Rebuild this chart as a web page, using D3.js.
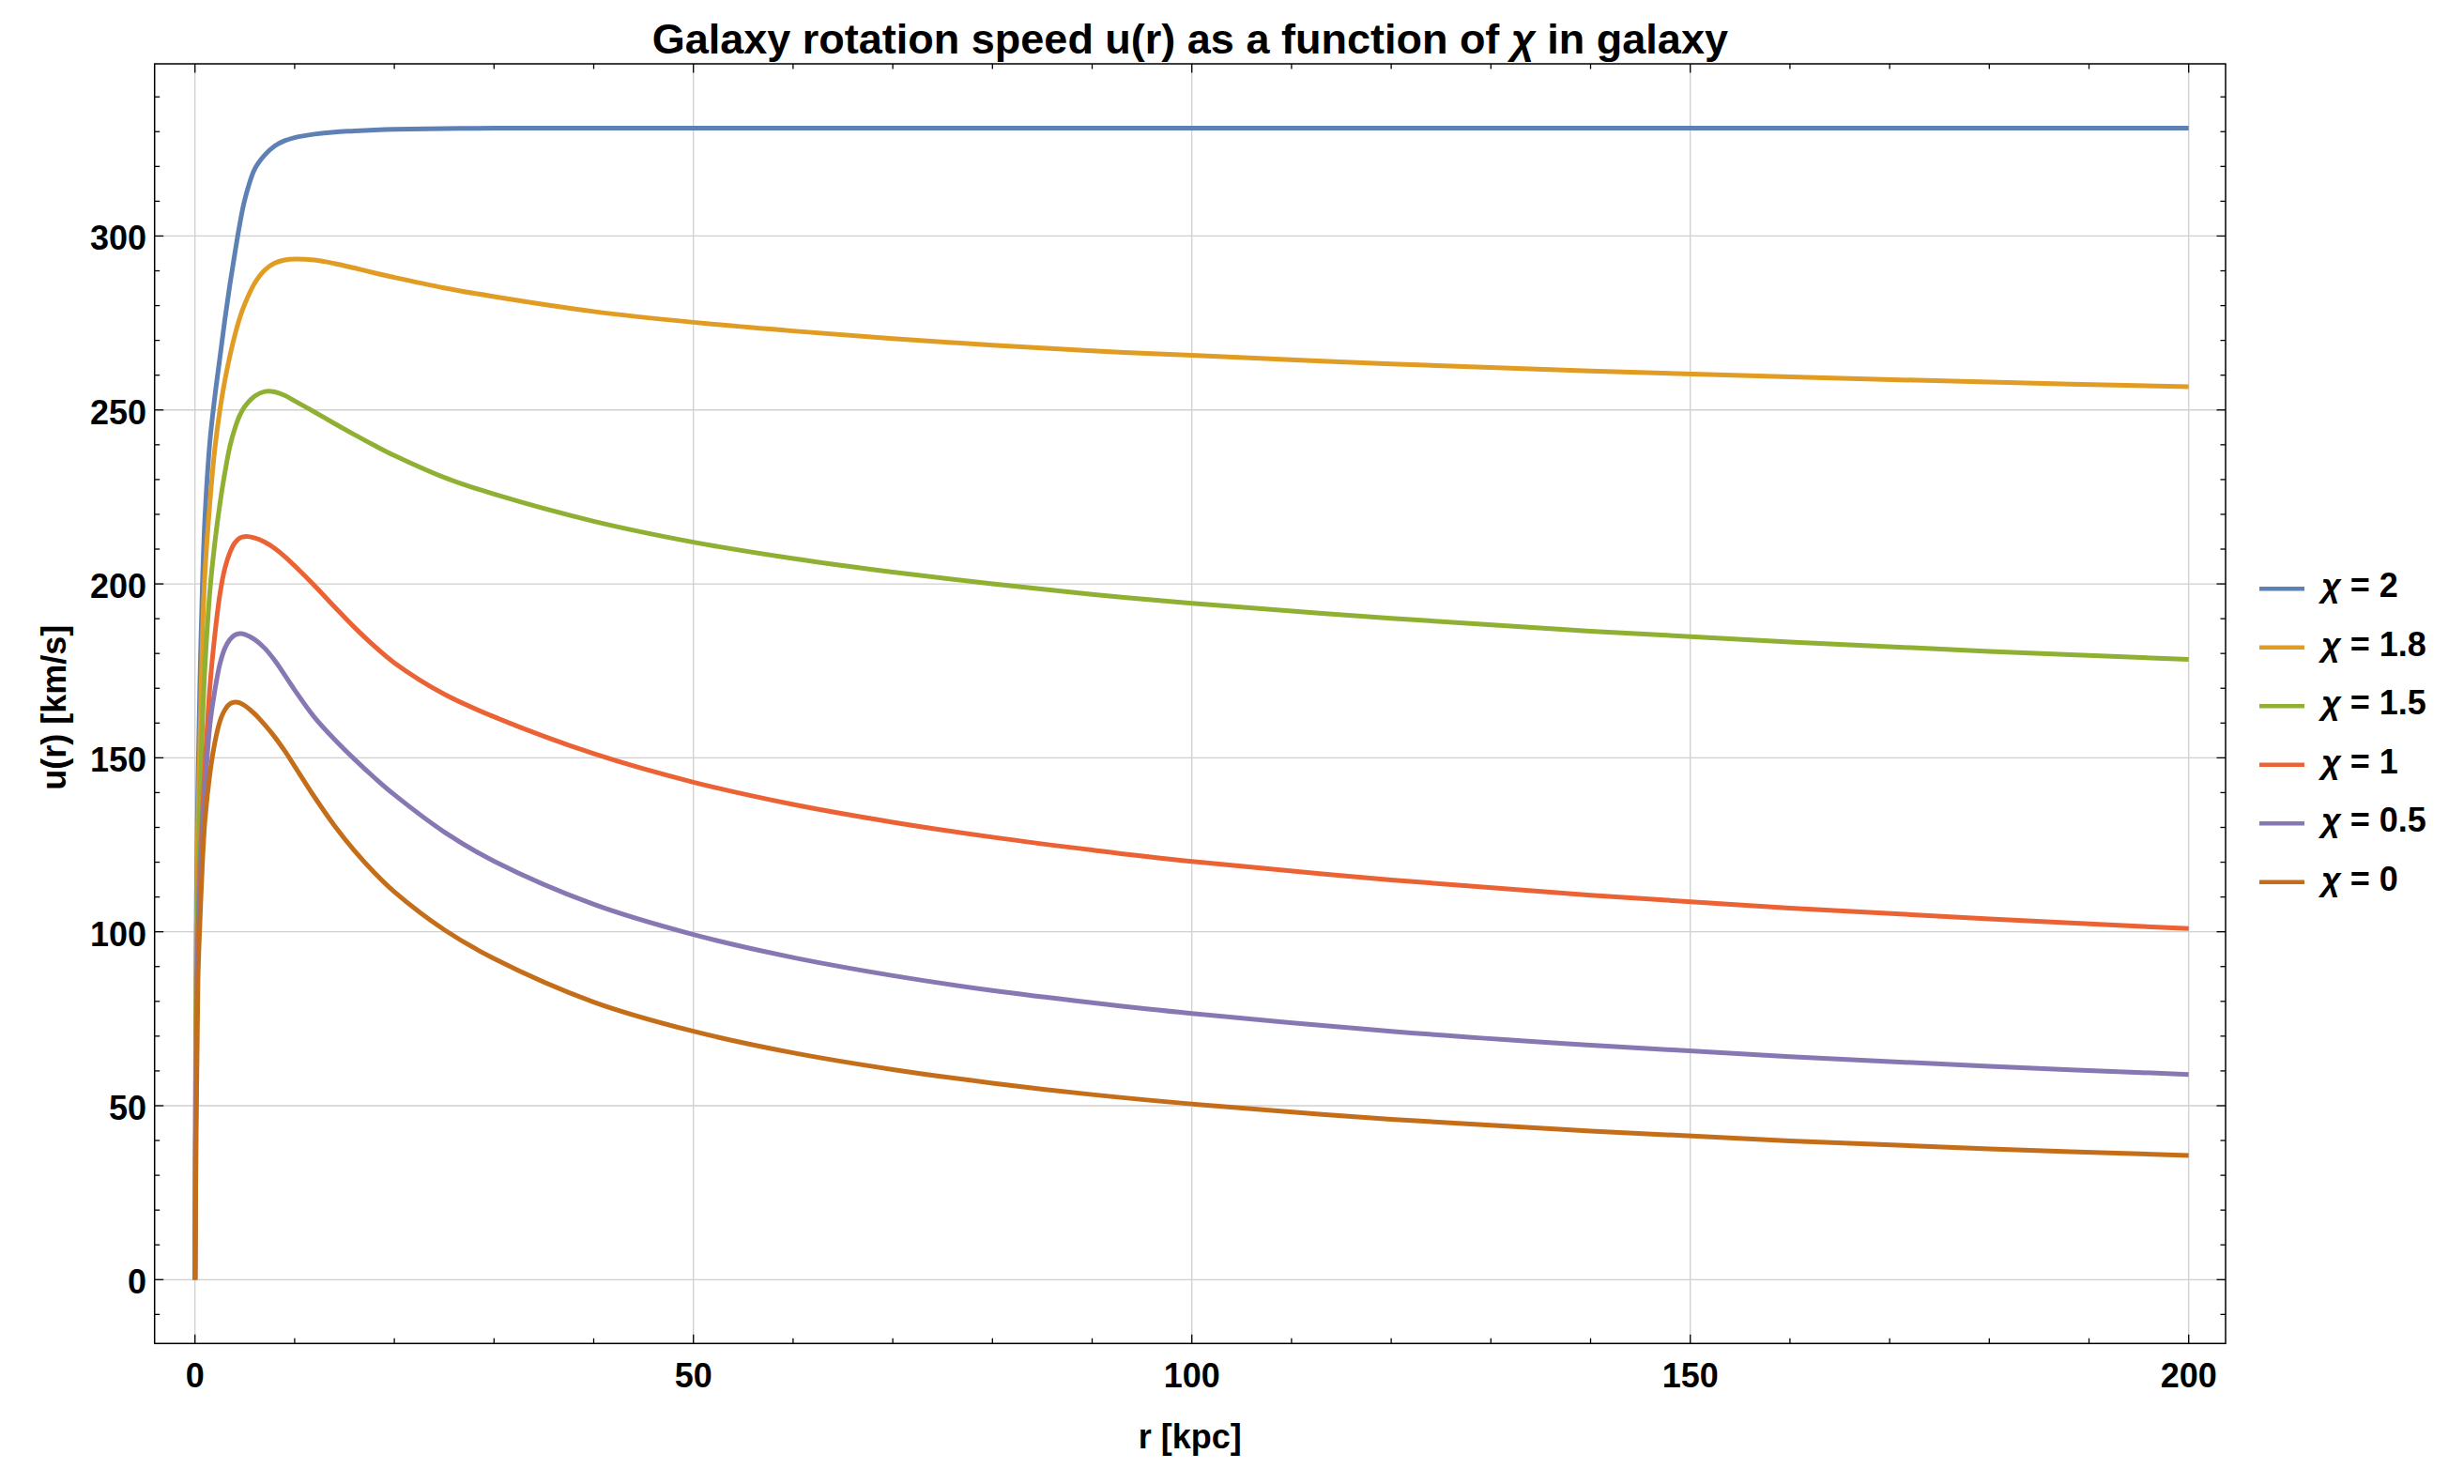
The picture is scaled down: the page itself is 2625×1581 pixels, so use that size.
<!DOCTYPE html>
<html>
<head>
<meta charset="utf-8">
<script src="https://cdn.jsdelivr.net/npm/d3@7"></script>
<style>
html, body { margin: 0; padding: 0; background: #ffffff; }
svg { display: block; }
text { font-family: "Liberation Sans", Arial, Helvetica, sans-serif; font-weight: bold; fill: #000; }
</style>
</head>
<body>
<svg id="chart" width="2625" height="1581"></svg>
<script>
// ---------------- DATA ----------------
const radiusKpc = [0, 0.15, 0.3, 0.5, 0.75, 1, 1.5, 2, 2.5, 3, 3.5, 4, 4.5, 5, 6, 7, 8, 9, 10, 12, 14, 16, 18, 20, 25, 30, 40, 50, 60, 70, 80, 90, 100, 120, 140, 160, 180, 200];

const speedChi2   = [0, 110, 142, 172, 200, 219, 241, 254, 265, 276, 286, 295, 303.5, 310.5, 319.3, 323.3, 325.9, 327.4, 328.3, 329.3, 329.9, 330.2, 330.5, 330.7, 330.9, 331, 331, 331, 331, 331, 331, 331, 331, 331, 331, 331, 331, 331];
const speedChi1_8 = [0, 100, 132, 155, 185, 203, 223.5, 239, 250, 258.5, 265.5, 271.5, 276.5, 280.5, 286.5, 290.2, 292.2, 293.1, 293.4, 293.1, 292.1, 290.8, 289.4, 288.1, 285.1, 282.6, 278.3, 275.2, 272.7, 270.5, 268.6, 267, 265.7, 263.2, 261.2, 259.5, 258, 256.7];
const speedChi1_5 = [0, 85, 112, 138, 160, 176, 198, 212, 223, 232, 239.5, 244.7, 248.5, 251, 254, 255.3, 255.2, 254.2, 252.6, 249.4, 246.1, 242.9, 239.8, 236.9, 230.6, 225.8, 218, 212, 207.3, 203.4, 200, 197, 194.4, 190.1, 186.4, 183.3, 180.6, 178.3];
const speedChi1   = [0, 75, 100, 119, 134, 147.5, 170.5, 185.5, 197, 204.5, 209, 211.8, 213.2, 213.6, 213.2, 212, 210.2, 207.9, 205.2, 199.5, 193.4, 187.5, 182.1, 177.3, 168.3, 161.8, 151.2, 143, 136.6, 131.5, 127.2, 123.5, 120.2, 114.9, 110.5, 106.8, 103.7, 100.9];
const speedChi0_5 = [0, 72, 97, 115, 129.5, 141, 159.5, 169.5, 177, 181.5, 184, 185.3, 185.7, 185.5, 184, 181.5, 178, 173.8, 169.5, 161.6, 155.3, 149.6, 144.3, 139.4, 128.7, 120.3, 107.9, 99.2, 92.6, 87.4, 83.1, 79.6, 76.5, 71.4, 67.4, 64.1, 61.3, 59];
const speedChi0   = [0, 50, 86, 103, 120, 132, 145.5, 154.5, 160.5, 163.8, 165.5, 166, 165.8, 165, 162.6, 159.5, 156, 152, 147.6, 138.7, 130.5, 123.3, 117, 111.5, 100.6, 92.3, 79.8, 71.4, 65.2, 60.4, 56.5, 53.2, 50.5, 46.1, 42.7, 39.9, 37.6, 35.7];

const chiLabels = ["2", "1.8", "1.5", "1", "0.5", "0"];
const xMajorTicks = [0, 50, 100, 150, 200];
const yMajorTicks = [0, 50, 100, 150, 200, 250, 300];
const xMinorTicks = d3.range(0, 201, 10);
const yMinorTicks = d3.range(-10, 341, 10);

const titleText = "Galaxy rotation speed u(r) as a function of ";
const titleTail = " in galaxy";
const xAxisTitle = "r [kpc]";
const yAxisTitle = "u(r) [km/s]";

// ---------------- STYLE / LAYOUT ----------------
const seriesSpeeds = [speedChi2, speedChi1_8, speedChi1_5, speedChi1, speedChi0_5, speedChi0];
const seriesColors = ["#5E81B5", "#E19C24", "#8FB032", "#EB6235", "#8778B3", "#C56E1A"];

const W = 2625, H = 1581;
const frame = { left: 164.7, right: 2371, top: 68, bottom: 1431.3 };

const svg = d3.select("#chart");
svg.append("rect").attr("width", W).attr("height", H).attr("fill", "#fff");

const x = d3.scaleLinear().domain([-4.05, 203.7]).range([frame.left, frame.right]);
const y = d3.scaleLinear().domain([-18.35, 349.5]).range([frame.bottom, frame.top]);

svg.append("defs").append("clipPath").attr("id", "plotclip")
  .append("rect")
  .attr("x", frame.left).attr("y", frame.top)
  .attr("width", frame.right - frame.left).attr("height", frame.bottom - frame.top);

// grid lines
const grid = svg.append("g").attr("stroke", "#cfcfcf").attr("stroke-width", 1.3);
grid.selectAll("line.gx").data(xMajorTicks).enter().append("line")
  .attr("x1", d => x(d)).attr("x2", d => x(d))
  .attr("y1", frame.top).attr("y2", frame.bottom);
grid.selectAll("line.gy").data(yMajorTicks).enter().append("line")
  .attr("y1", d => y(d)).attr("y2", d => y(d))
  .attr("x1", frame.left).attr("x2", frame.right);

// curves
const line = d3.line()
  .x(d => x(d[0]))
  .y(d => y(d[1]))
  .curve(d3.curveCatmullRom.alpha(0.5));

const plot = svg.append("g").attr("clip-path", "url(#plotclip)");
seriesSpeeds.forEach((vals, i) => {
  const pts = radiusKpc.map((r, j) => [r, vals[j]]);
  plot.append("path")
    .datum(pts)
    .attr("d", line)
    .attr("fill", "none")
    .attr("stroke", seriesColors[i])
    .attr("stroke-width", 5)
    .attr("stroke-linejoin", "round")
    .attr("stroke-linecap", "butt");
});

// frame
svg.append("rect")
  .attr("x", frame.left).attr("y", frame.top)
  .attr("width", frame.right - frame.left).attr("height", frame.bottom - frame.top)
  .attr("fill", "none").attr("stroke", "#000").attr("stroke-width", 1.5);

// ticks (inward on all four sides)
const ticks = svg.append("g").attr("stroke", "#000").attr("stroke-width", 1.3);
const majLen = 9.5, minLen = 5.5;
function xTicks(vals, len) {
  vals.forEach(v => {
    ticks.append("line").attr("x1", x(v)).attr("x2", x(v)).attr("y1", frame.bottom).attr("y2", frame.bottom - len);
    ticks.append("line").attr("x1", x(v)).attr("x2", x(v)).attr("y1", frame.top).attr("y2", frame.top + len);
  });
}
function yTicks(vals, len) {
  vals.forEach(v => {
    ticks.append("line").attr("y1", y(v)).attr("y2", y(v)).attr("x1", frame.left).attr("x2", frame.left + len);
    ticks.append("line").attr("y1", y(v)).attr("y2", y(v)).attr("x1", frame.right).attr("x2", frame.right - len);
  });
}
xTicks(xMinorTicks.filter(v => !xMajorTicks.includes(v)), minLen);
xTicks(xMajorTicks, majLen);
yTicks(yMinorTicks.filter(v => !yMajorTicks.includes(v)), minLen);
yTicks(yMajorTicks, majLen);

// tick labels
svg.append("g").selectAll("text").data(xMajorTicks).enter().append("text")
  .attr("x", d => x(d)).attr("y", 1478)
  .attr("text-anchor", "middle").attr("font-size", 36)
  .text(d => d);
svg.append("g").selectAll("text").data(yMajorTicks).enter().append("text")
  .attr("x", 156).attr("y", d => y(d) + 15)
  .attr("text-anchor", "end").attr("font-size", 36)
  .text(d => d);

// axis titles
svg.append("text").attr("x", (frame.left + frame.right) / 2).attr("y", 1543)
  .attr("text-anchor", "middle").attr("font-size", 36).text(xAxisTitle);
svg.append("text")
  .attr("transform", `translate(69.5, ${(frame.top + frame.bottom) / 2 + 4}) rotate(-90)`)
  .attr("text-anchor", "middle").attr("font-size", 36).text(yAxisTitle);

// title
const title = svg.append("text").attr("x", (frame.left + frame.right) / 2).attr("y", 57)
  .attr("text-anchor", "middle").attr("font-size", 45);
title.append("tspan").text(titleText);
title.append("tspan").attr("font-style", "italic").text("χ");
title.append("tspan").text(titleTail);

// legend
const legend = svg.append("g");
const legendRowY = d3.scaleLinear().domain([0, 5]).range([627.3, 939.7]);
chiLabels.forEach((lab, i) => {
  const ry = legendRowY(i);
  legend.append("line")
    .attr("x1", 2407).attr("x2", 2455).attr("y1", ry).attr("y2", ry)
    .attr("stroke", seriesColors[i]).attr("stroke-width", 4.6);
  const t = legend.append("text").attr("x", 2473).attr("y", ry + 9).attr("font-size", 36);
  t.append("tspan").attr("font-style", "italic").text("χ");
  t.append("tspan").text(" = " + lab);
});
</script>
</body>
</html>
